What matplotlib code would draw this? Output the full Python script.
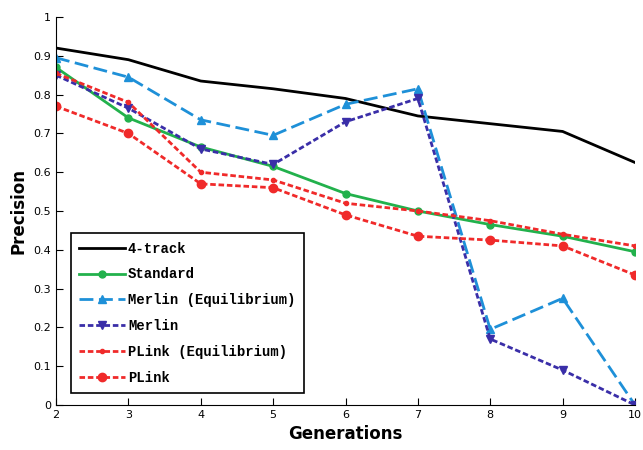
import numpy as np
import matplotlib.pyplot as plt

gens = [2, 3, 4, 5, 6, 7, 8, 9, 10]
four_track = [0.92, 0.89, 0.835, 0.815, 0.79, 0.745, 0.725, 0.705, 0.625]
standard = [0.87, 0.74, 0.665, 0.615, 0.545, 0.50, 0.465, 0.435, 0.395]
merlin_eq = [0.895, 0.845, 0.735, 0.695, 0.775, 0.815, 0.195, 0.275, 0.0]
merlin = [0.85, 0.765, 0.66, 0.62, 0.73, 0.79, 0.17, 0.09, 0.0]
plink_eq = [0.855, 0.78, 0.60, 0.58, 0.52, 0.50, 0.475, 0.44, 0.41]
plink = [0.77, 0.70, 0.57, 0.56, 0.49, 0.435, 0.425, 0.41, 0.335]

fig = plt.figure(figsize=(6.43, 4.5), dpi=100)
ax = fig.add_axes([56/643, 45/450, 579/643, 388/450])

ax.plot(gens, four_track, color='black', lw=2.0, label='4-track')
ax.plot(gens, standard, color='#22b14c', lw=2.0, marker='o', ms=5, label='Standard')
ax.plot(gens, merlin_eq, color='#1e90d8', lw=2.0, ls=(0, (5, 2)), marker='^', ms=6, label='Merlin (Equilibrium)')
ax.plot(gens, merlin, color='#3a2ea8', lw=2.0, ls=(0, (2, 1)), marker='v', ms=6, label='Merlin')
ax.plot(gens, plink_eq, color='#f02a2a', lw=2.0, ls=(0, (2, 1)), marker='o', ms=3, label='PLink (Equilibrium)')
ax.plot(gens, plink, color='#f02a2a', lw=2.0, ls=(0, (2, 1)), marker='o', ms=6, label='PLink')

ax.set_xlim(2, 10)
ax.set_ylim(0, 1)
ax.set_xticks(gens)
ax.set_yticks(np.arange(0, 1.01, 0.1))
ax.set_yticklabels(['0', '0.1', '0.2', '0.3', '0.4', '0.5', '0.6', '0.7', '0.8', '0.9', '1'])
ax.tick_params(direction='in', labelsize=8, length=5)
ax.spines['top'].set_visible(False)
ax.spines['right'].set_visible(False)
ax.set_xlabel('Generations', fontsize=12, fontweight='bold')
ax.set_ylabel('Precision', fontsize=12, fontweight='bold')

leg = ax.legend(loc='lower left', bbox_to_anchor=(0.026, 0.031), borderaxespad=0,
                fancybox=False, edgecolor='black', framealpha=1, handlelength=3.3,
                handletextpad=0.2, labelspacing=0.85, borderpad=0.6,
                prop={'family': 'Liberation Mono', 'weight': 'bold', 'size': 10})
leg.get_frame().set_linewidth(1.2)

fig.savefig('out.png', dpi=100)
